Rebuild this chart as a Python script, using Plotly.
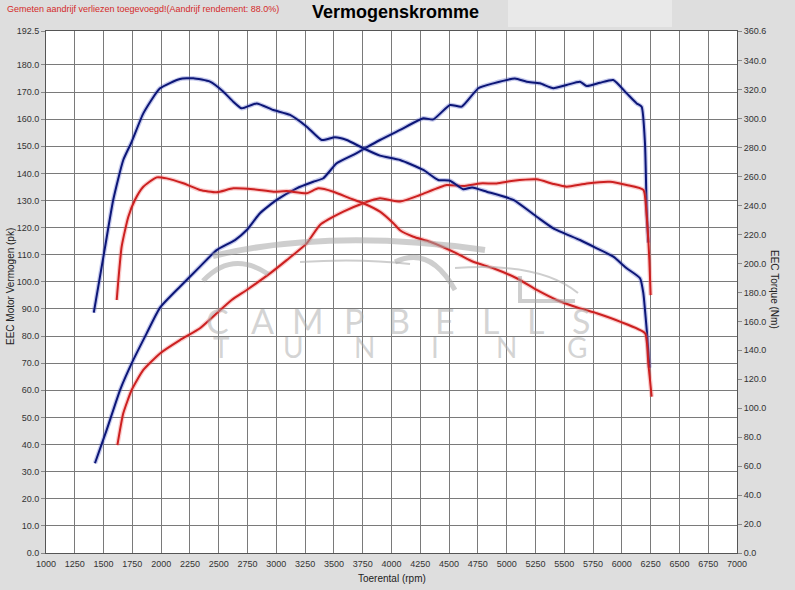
import plotly.graph_objects as go

# toerental (rpm) en gemeten waarden
rpm_koppel_blauw = [1415, 1512, 1584, 1671, 1744, 1845, 1990, 2163, 2279, 2424, 2540, 2626, 2699,
                    2829, 2974, 3119, 3264, 3394, 3509, 3611, 3755, 3900, 4074, 4276, 4406, 4508,
                    4623, 4700, 4827, 5058, 5261, 5405, 5637, 5782, 5926, 6042, 6158, 6187, 6201,
                    6220, 6240]
koppel_blauw = [166.0, 211.0, 244.0, 271.5, 284.0, 303.7, 321.0, 327.4, 328.0, 325.6, 318.7, 311.8,
                307.2, 310.6, 306.0, 302.6, 294.5, 285.3, 287.2, 285.3, 279.6, 274.5, 271.5, 264.6,
                257.7, 257.2, 251.3, 252.5, 249.6, 243.9, 232.3, 224.3, 216.2, 210.5, 204.7, 196.7,
                189.8, 179.4, 168.0, 150.6, 128.0]

rpm_koppel_rood = [1614, 1657, 1715, 1773, 1845, 1961, 2048, 2192, 2337, 2482, 2626, 2800, 2974,
                   3090, 3264, 3364, 3495, 3640, 3755, 3900, 4016, 4074, 4190, 4334, 4566, 4710,
                   4884, 5087, 5261, 5434, 5637, 5782, 5984, 6201, 6230, 6259]
koppel_rood = [174.8, 211.6, 232.3, 244.0, 253.0, 259.5, 258.8, 255.4, 250.8, 249.2, 251.9, 251.3,
               249.6, 250.0, 248.5, 251.9, 249.6, 245.0, 241.6, 235.8, 227.8, 223.0, 218.5, 215.0,
               207.0, 201.2, 196.7, 189.8, 181.7, 174.8, 169.0, 165.6, 159.8, 151.8, 131.0, 108.0]

rpm_vermogen_blauw = [1425, 1527, 1643, 1758, 1874, 1990, 2163, 2337, 2482, 2641, 2743, 2858, 3003,
                      3177, 3321, 3408, 3524, 3668, 3784, 3900, 4074, 4276, 4363, 4508, 4610, 4754,
                      4884, 5072, 5174, 5289, 5405, 5521, 5637, 5695, 5810, 5926, 6042, 6129, 6172,
                      6201, 6216, 6230]
vermogen_blauw = [33.1, 45.4, 60.1, 71.2, 81.0, 90.5, 98.2, 105.6, 111.7, 115.4, 119.1, 125.3, 130.2,
                  134.5, 136.9, 138.2, 143.7, 146.8, 149.6, 152.3, 156.0, 160.3, 159.9, 165.2, 164.6,
                  171.4, 173.2, 175.0, 173.8, 173.2, 171.4, 172.6, 173.8, 172.2, 173.4, 174.4, 169.5,
                  165.8, 164.6, 151.1, 126.5, 114.5]

rpm_vermogen_rood = [1620, 1671, 1744, 1845, 1990, 2163, 2337, 2482, 2612, 2743, 2945, 3090, 3264,
                     3379, 3582, 3755, 3900, 4074, 4247, 4479, 4623, 4769, 4913, 5058, 5261, 5405,
                     5521, 5695, 5897, 6042, 6187, 6216, 6239, 6250]
vermogen_rood = [39.8, 51.5, 60.1, 67.5, 73.6, 78.5, 82.9, 88.4, 93.3, 97.0, 103.1, 108.0, 114.2,
                 121.0, 125.9, 129.0, 130.8, 129.6, 132.0, 135.7, 135.3, 136.3, 136.3, 137.3, 137.8,
                 136.1, 135.1, 136.3, 136.9, 135.7, 133.9, 124.0, 108.0, 95.1]

x_ticks = list(range(1000, 7001, 250))
pk_ticks = [v * 10.0 for v in range(19)] + [192.5]
nm_ticks = [v * 20.0 for v in range(18)] + [360.6]

BLAUW = "#0c1677"
ROOD = "#cc2020"

# plotgebied in pixels (795x590)
L, R, T, B = 46, 737, 31, 553


def px(x, y):
    # pixel -> paper coordinaten, alleen voor de decoratie
    return (x - L) / (R - L), (B - y) / (B - T)


def add_curve(fig, x, y, color, halo, axis):
    fig.add_trace(go.Scatter(x=x, y=y, mode="lines", yaxis=axis, hoverinfo="skip",
                             line=dict(color=halo, width=4.5, shape="spline", smoothing=0.5)))
    fig.add_trace(go.Scatter(x=x, y=y, mode="lines", yaxis=axis,
                             line=dict(color=color, width=2, shape="spline", smoothing=0.5)))


def label(text, x, y, size, color, angle=0, family="Liberation Sans", weight=None):
    ax, ay = px(x, y)
    font = dict(family=family, size=size, color=color)
    if weight:
        font["weight"] = weight
    return dict(text=text, x=ax, y=ay, xref="paper", yref="paper", showarrow=False,
                xanchor="center", yanchor="middle", textangle=angle, font=font)


fig = go.Figure()
add_curve(fig, rpm_koppel_blauw, koppel_blauw, BLAUW, "rgba(90,100,200,0.35)", "y2")
add_curve(fig, rpm_koppel_rood, koppel_rood, ROOD, "rgba(240,110,110,0.35)", "y2")
add_curve(fig, rpm_vermogen_blauw, vermogen_blauw, BLAUW, "rgba(90,100,200,0.35)", "y")
add_curve(fig, rpm_vermogen_rood, vermogen_rood, ROOD, "rgba(240,110,110,0.35)", "y")

# watermerk
GRIJS = "rgba(165,165,165,0.55)"
shapes = []
for path_px, w in [
    ([(213, 256), (330, 228), (485, 250)], 6),
    ([(455, 268), (540, 262), (578, 293)], 2),
    ([(300, 262), (360, 258), (410, 264)], 2),
    ([(203, 281), (232, 250), (268, 274)], 5),
    ([(395, 262), (430, 245), (455, 290)], 5),
]:
    pts = [px(*p) for p in path_px]
    d = "M %.4f,%.4f Q %.4f,%.4f %.4f,%.4f" % (pts[0] + pts[1] + pts[2])
    shapes.append(dict(type="path", path=d, xref="paper", yref="paper",
                       line=dict(color=GRIJS, width=w), layer="above"))
x0, y0 = px(520, 276)
x1, y1 = px(575, 301)
shapes.append(dict(type="path", xref="paper", yref="paper", layer="above",
                   path="M %.4f,%.4f L %.4f,%.4f L %.4f,%.4f" % (x0, y0, x0, y1, x1, y1),
                   line=dict(color=GRIJS, width=4)))
# lichte titelbalk
bx0, by0 = px(508, 27)
bx1, by1 = px(672, 0)
shapes.append(dict(type="rect", xref="paper", yref="paper", x0=bx0, x1=bx1, y0=by0, y1=by1,
                   fillcolor="#e9e9e9", line=dict(width=0), layer="below"))

annotations = []
for i, letter in enumerate("CAMPBELLS"):
    annotations.append(label(letter, 217 + i * 45.5, 320, 34, "rgba(170,170,170,0.5)",
                             family="Lato", weight=400))
for i, letter in enumerate("TUNING"):
    annotations.append(label(letter, 222 + i * 71, 347, 28, "rgba(170,170,170,0.5)",
                             family="Lato", weight=400))

note = label("Gemeten aandrijf verliezen toegevoegd!(Aandrijf rendement: 88.0%)",
             5, 9, 9, "#d42a2a")
note["xanchor"] = "left"
annotations.append(note)
annotations.append(label("<b>Vermogenskromme</b>", 395, 12, 18, "#000"))
annotations.append(label("EEC Motor Vermogen (pk)", 10, 287, 10, "#222", angle=-90))
annotations.append(label("EEC Torque (Nm)", 775, 290, 10, "#222", angle=90))
annotations.append(label("Toerental (rpm)", 392, 578, 10, "#222"))

tick_font = dict(family="Liberation Sans", size=9, color="#333")
fig.update_layout(
    width=795, height=590,
    margin=dict(l=L, r=795 - R, t=T, b=590 - B, autoexpand=False),
    paper_bgcolor="#dedede", plot_bgcolor="white",
    showlegend=False,
    xaxis=dict(range=[1000, 7000], tickvals=x_ticks, ticktext=[str(v) for v in x_ticks],
               showgrid=True, gridcolor="#7a7a7a", gridwidth=1, zeroline=False,
               showline=True, linecolor="#555", mirror=True, ticks="", ticklabelstandoff=2,
               tickfont=tick_font, automargin=False),
    yaxis=dict(range=[0, 192.5], tickvals=pk_ticks, ticktext=["%.1f" % v for v in pk_ticks],
               showgrid=True, gridcolor="#7a7a7a", gridwidth=1, zeroline=False,
               showline=True, linecolor="#555", mirror=True, ticks="outside", ticklen=4,
               tickcolor="#888", tickfont=tick_font, automargin=False),
    yaxis2=dict(range=[0, 360.6], tickvals=nm_ticks, ticktext=["%.1f" % v for v in nm_ticks],
                overlaying="y", side="right", showgrid=False, zeroline=False,
                ticks="outside", ticklen=4, tickcolor="#888", tickfont=tick_font,
                automargin=False),
    shapes=shapes,
    annotations=annotations,
)

# geen witte rand van de pagina rond de figuur, geen modebar
fig.write_html("out.html", config={"displayModeBar": False},
               post_script="document.body.style.margin='0';")
